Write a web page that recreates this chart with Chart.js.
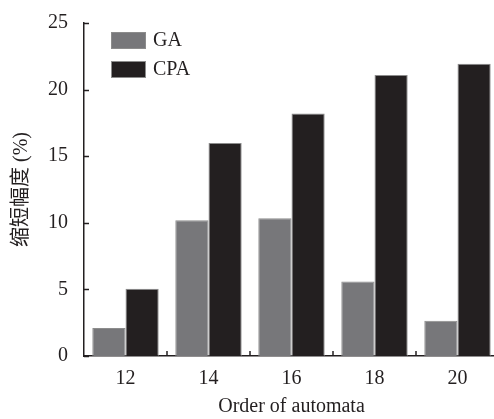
<!DOCTYPE html>
<html>
<head>
<meta charset="utf-8">
<script src="https://cdn.jsdelivr.net/npm/chart.js@4/dist/chart.umd.min.js"></script>
<style>
html,body{margin:0;padding:0;background:#fff;overflow:hidden;}
#wrap{width:500px;height:419px;}
</style>
</head>
<body>
<div id="wrap"><canvas id="c" width="500" height="419"></canvas></div>
<script>
const categories = ['12', '14', '16', '18', '20'];
const gaValues = [2.1, 10.2, 10.35, 5.6, 2.65];
const cpaValues = [5.05, 16.0, 18.2, 21.1, 21.95];
const seriesNames = ['GA', 'CPA'];
const yTicks = [0, 5, 10, 15, 20, 25];
const xTitle = 'Order of automata';
const yTitle = '缩短幅度 (%)';

const FONT = "'Liberation Serif', 'Noto Sans CJK SC', serif";
const INK = '#231f20';

const inwardTicks = {
  id: 'inwardTicks',
  afterDatasetsDraw(chart) {
    const ctx = chart.ctx;
    const xs = chart.scales.x, ys = chart.scales.y;
    ctx.save();
    ctx.strokeStyle = INK;
    ctx.lineWidth = 1.5;
    ys.ticks.forEach(t => {
      const y = Math.round(ys.getPixelForValue(t.value)) + 0.5;
      ctx.beginPath();
      ctx.moveTo(ys.right, y);
      ctx.lineTo(ys.right + 5, y);
      ctx.stroke();
    });
    for (let i = 1; i < categories.length; i++) {
      const x = Math.round((xs.getPixelForValue(i - 1) + xs.getPixelForValue(i)) / 2);
      ctx.beginPath();
      ctx.moveTo(x, xs.top);
      ctx.lineTo(x, xs.top - 5);
      ctx.stroke();
    }
    ctx.restore();
  }
};

const innerLegend = {
  id: 'innerLegend',
  afterDraw(chart) {
    const ctx = chart.ctx;
    const a = chart.chartArea;
    ctx.save();
    ctx.font = '20px ' + FONT;
    ctx.textBaseline = 'middle';
    ctx.textAlign = 'left';
    chart.data.datasets.forEach((ds, i) => {
      const bx = a.left + 27, by = a.top + 9 + i * 29;
      ctx.fillStyle = ds.backgroundColor;
      ctx.fillRect(bx, by, 35, 17);
      ctx.strokeStyle = '#8c8c8c';
      ctx.lineWidth = 1;
      ctx.strokeRect(bx + 0.5, by + 0.5, 34, 16);
      ctx.fillStyle = INK;
      ctx.fillText(ds.label, bx + 42, by + 9);
    });
    ctx.restore();
  }
};

new Chart(document.getElementById('c'), {
  type: 'bar',
  data: {
    labels: categories,
    datasets: [
      { label: seriesNames[0], data: gaValues, backgroundColor: '#77777a', borderColor: '#8c8c8c', borderWidth: 1 },
      { label: seriesNames[1], data: cpaValues, backgroundColor: '#231f20', borderColor: '#8c8c8c', borderWidth: 1 }
    ]
  },
  options: {
    responsive: false,
    animation: false,
    devicePixelRatio: 1,
    layout: { padding: { top: 23, right: 1, left: 0, bottom: 0 } },
    plugins: { legend: { display: false }, tooltip: { enabled: false } },
    datasets: { bar: { categoryPercentage: 0.8, barPercentage: 1.0 } },
    scales: {
      x: {
        grid: { display: false, drawTicks: false },
        border: { display: true, color: INK, width: 1.5 },
        ticks: { color: INK, font: { family: FONT, size: 20 }, padding: 11, maxRotation: 0 },
        title: { display: true, text: xTitle, color: INK, font: { family: FONT, size: 20 }, padding: { top: 0, bottom: 0 } },
        afterFit(s) { s.height = 63; s.paddingLeft = 0; s.paddingRight = 0; }
      },
      y: {
        min: 0, max: 25,
        afterBuildTicks(s) { s.ticks = yTicks.map(v => ({ value: v })); },
        grid: { display: false, drawTicks: false },
        border: { display: true, color: INK, width: 1.5 },
        ticks: { color: INK, font: { family: FONT, size: 20 }, padding: 16 },
        title: { display: true, text: yTitle, color: INK, font: { family: FONT, size: 20 }, padding: { top: 10, bottom: 0 } },
        afterFit(s) { s.width = 84; s.paddingTop = 0; s.paddingBottom = 0; }
      }
    }
  },
  plugins: [inwardTicks, innerLegend]
});
</script>
</body>
</html>
